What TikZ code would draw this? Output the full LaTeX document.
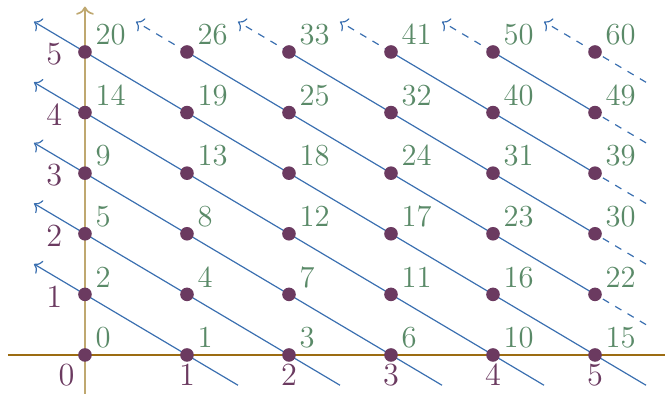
\documentclass[tikz,border=0pt]{standalone}
\usetikzlibrary{arrows.meta,calc,backgrounds}
\definecolor{dotpurple}{RGB}{107,58,96}
\definecolor{numgreen}{RGB}{90,138,104}
\definecolor{diagblue}{RGB}{58,111,176}
\definecolor{xaxiscol}{RGB}{156,108,18}
\definecolor{yaxiscol}{RGB}{191,168,112}
\tikzset{
  gridpt/.style={circle, fill=dotpurple, inner sep=0pt, minimum size=2mm},
  pairnum/.style={anchor=base west, text=numgreen, inner sep=0pt, font=\fontsize{12.8}{15}\selectfont},
  coordnum/.style={anchor=base, text=dotpurple, inner sep=0pt, font=\fontsize{13.5}{16}\selectfont},
  diag/.style={draw=diagblue, line width=0.5pt},
  diagtip/.style={diag, -{To[length=1mm, width=2.2mm]}},
  ext/.style={diag, dashed},
  exttip/.style={ext, -{To[length=1mm, width=2.2mm]}},
  axisline/.style={line width=0.7pt, -{To[length=1.2mm, width=2.6mm]}}
}

\begin{document}
\begin{tikzpicture}[x=1.5cm, y=0.891cm]
  \clip (-0.833,-0.644) rectangle (5.686,5.858);

  % lattice points
  \foreach \x in {0,...,5} {
    \foreach \y in {0,...,5} {
      \node[gridpt] (p-\x-\y) at (\x,\y) {};
    }
  }

  \begin{scope}[on background layer]
    % axes
    \coordinate (ybot) at (0,-0.75);
    \coordinate (ytop) at (0,5.75);
    \coordinate (xleft) at (-0.755,0);
    \coordinate (xright) at (5.8,0);
    \draw[axisline, yaxiscol] (ybot) -- (ytop);
    \draw[axisline, xaxiscol] (xleft) -- (xright);

    % full diagonals
    \foreach \n in {1,...,5}
      \draw[diagtip] ($(p-\n-0)+(.5,-.5)$) -- ($(p-0-\n)+(-.5,.5)$);

    % cut diagonals
    \foreach \m in {1,...,5} {
      \draw[ext] ($(p-5-\m)+(.5,-.5)$) -- (p-5-\m.center);
      \draw[diag] (p-5-\m.center) -- (p-\m-5.center);
      \draw[exttip] (p-\m-5.center) -- ($(p-\m-5)+(-.5,.5)$);
    }
  \end{scope}

  % pairing values
  \foreach \x in {0,...,5} {
    \foreach \y in {0,...,5} {
      \pgfmathtruncatemacro{\k}{(\x+\y)*(\x+\y+1)/2+\y}
      \node[pairnum] (c-\x-\y) at ($(p-\x-\y)+(0.1,0.12)$) {\k};
    }
  }

  % axis numbers
  \node[coordnum] (orig) at (-0.18,-0.5) {0};
  \foreach \x in {1,...,5}
    \node[coordnum] (xl-\x) at ($(p-\x-0)+(0,-0.51)$) {\x};
  \foreach \y in {1,...,5}
    \node[coordnum] (yl-\y) at ($(p-0-\y)+(-0.3,-0.21)$) {\y};
\end{tikzpicture}
\end{document}
